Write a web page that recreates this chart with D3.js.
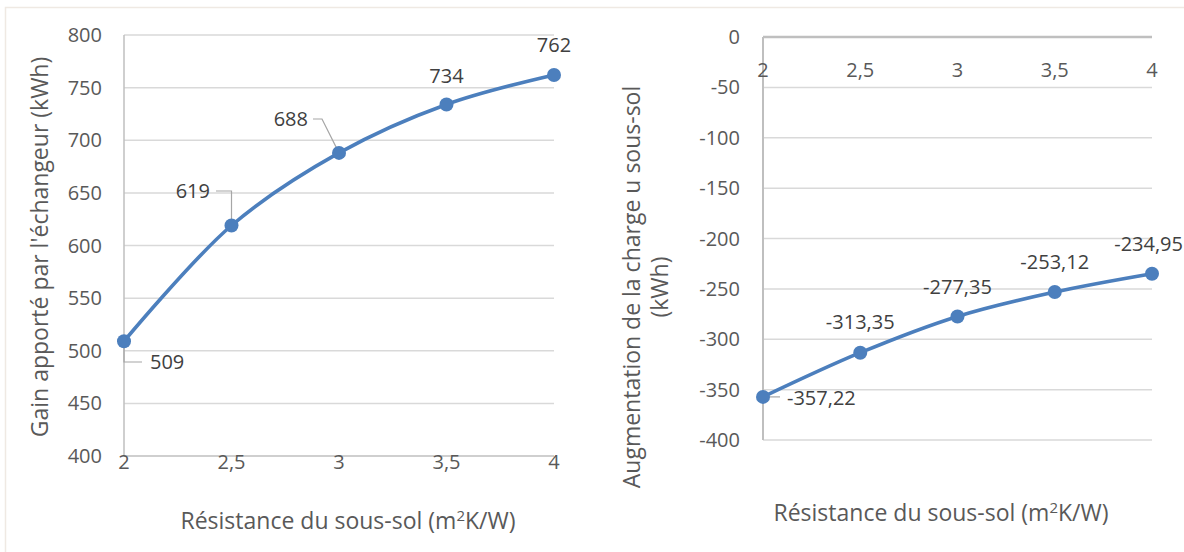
<!DOCTYPE html>
<html><head><meta charset="utf-8">
<script src="https://cdn.jsdelivr.net/npm/d3@7"></script>
<style>html,body{margin:0;padding:0;background:#fff;}svg{display:block;}</style>
</head><body>
<svg id="c" width="1184" height="552"></svg>
<script>
const resistance = [2, 2.5, 3, 3.5, 4];
const gain = [509, 619, 688, 734, 762];
const gainLabels = ["509", "619", "688", "734", "762"];
const charge = [-357.22, -313.35, -277.35, -253.12, -234.95];
const chargeLabels = ["-357,22", "-313,35", "-277,35", "-253,12", "-234,95"];
const xTicks = [2, 2.5, 3, 3.5, 4];
const gainTicks = [400, 450, 500, 550, 600, 650, 700, 750, 800];
const chargeTicks = [0, -50, -100, -150, -200, -250, -300, -350, -400];
const fmt = v => String(v).replace(".", ",");

const svg = d3.select("#c");
const FONT = "'Open Sans', sans-serif";
const BLUE = "#4c7fbd";
const GRID = "#d9d9d9";
const AXIS = "#bfbfbf";
const TICKC = "#595959";
const LBLC = "#404040";
const TS = 23; // title size

// outer frame
svg.append("rect").attr("x", 5.5).attr("y", 7.5).attr("width", 1200).attr("height", 600)
  .attr("fill", "none").attr("stroke", "#efe9e3").attr("stroke-width", 1.5);

const line = (x, y) => d3.line().x((d, i) => x(resistance[i])).y(d => y(d)).curve(d3.curveCatmullRom.alpha(0.5));

// ---------- LEFT CHART ----------
{
  const x = d3.scaleLinear().domain([2, 4]).range([124, 554]);
  const y = d3.scaleLinear().domain([400, 800]).range([456, 35]);
  const g = svg.append("g");
  g.selectAll("line.grid").data(gainTicks.filter(t => t > 400)).join("line")
    .attr("x1", x(2)).attr("x2", x(4)).attr("y1", d => y(d)).attr("y2", d => y(d))
    .attr("stroke", GRID).attr("stroke-width", 1.5);
  g.append("line").attr("x1", x(2)).attr("x2", x(2)).attr("y1", y(800)).attr("y2", y(400)).attr("stroke", AXIS).attr("stroke-width", 1.5);
  g.append("line").attr("x1", x(2)).attr("x2", x(4)).attr("y1", y(400)).attr("y2", y(400)).attr("stroke", AXIS).attr("stroke-width", 1.5);
  g.selectAll("text.yt").data(gainTicks).join("text")
    .attr("x", 102).attr("y", d => y(d)).attr("dy", "0.35em").attr("text-anchor", "end")
    .attr("font-family", FONT).attr("font-size", 20).attr("fill", TICKC).text(d => d);
  g.selectAll("text.xt").data(xTicks).join("text")
    .attr("x", d => x(d)).attr("y", 469).attr("text-anchor", "middle")
    .attr("font-family", FONT).attr("font-size", 20).attr("fill", TICKC).text(fmt);
  g.append("text").attr("x", 348).attr("y", 529).attr("text-anchor", "middle")
    .attr("font-family", FONT).attr("font-size", TS).attr("fill", TICKC)
    .html("Résistance du sous-sol (m<tspan dy='-8' font-size='15'>2</tspan><tspan dy='8'>K/W)</tspan>");
  g.append("text").attr("transform", "translate(48,247) rotate(-90)").attr("text-anchor", "middle")
    .attr("font-family", FONT).attr("font-size", TS).attr("fill", TICKC)
    .text("Gain apporté par l'échangeur (kWh)");
  // leader lines
  const L = "#a6a6a6";
  const pts = resistance.map((r, i) => [x(r), y(gain[i])]);
  g.append("path").attr("d", `M${pts[0][0]},${pts[0][1]} V362 H142`).attr("fill", "none").attr("stroke", L).attr("stroke-width", 1.2);
  g.append("path").attr("d", `M${pts[1][0]},${pts[1][1]} V191 H216`).attr("fill", "none").attr("stroke", L).attr("stroke-width", 1.2);
  g.append("path").attr("d", `M${pts[2][0]},${pts[2][1]} L322,119 H313`).attr("fill", "none").attr("stroke", L).attr("stroke-width", 1.2);
  g.append("path").datum(gain).attr("d", line(x, y)).attr("fill", "none").attr("stroke", BLUE).attr("stroke-width", 3.6);
  g.selectAll("circle").data(gain).join("circle")
    .attr("cx", (d, i) => x(resistance[i])).attr("cy", d => y(d)).attr("r", 7).attr("fill", BLUE);
  const lp = [[150, 362, "start"], [210, 191, "end"], [308, 119, "end"], [x(3.5), 76, "middle"], [x(4), 45, "middle"]];
  g.selectAll("text.dl").data(gainLabels).join("text")
    .attr("x", (d, i) => lp[i][0]).attr("y", (d, i) => lp[i][1]).attr("dy", "0.35em").attr("text-anchor", (d, i) => lp[i][2])
    .attr("font-family", FONT).attr("font-size", 20).attr("fill", LBLC).text(d => d);
}

// ---------- RIGHT CHART ----------
{
  const x = d3.scaleLinear().domain([2, 4]).range([763, 1152]);
  const y = d3.scaleLinear().domain([-400, 0]).range([440, 37]);
  const g = svg.append("g");
  g.selectAll("line.grid").data(chargeTicks.filter(t => t < 0)).join("line")
    .attr("x1", x(2)).attr("x2", x(4)).attr("y1", d => y(d)).attr("y2", d => y(d))
    .attr("stroke", GRID).attr("stroke-width", 1.5);
  g.append("line").attr("x1", x(2)).attr("x2", x(2)).attr("y1", y(0)).attr("y2", y(-400)).attr("stroke", AXIS).attr("stroke-width", 2);
  g.append("line").attr("x1", x(2)).attr("x2", x(4)).attr("y1", y(0)).attr("y2", y(0)).attr("stroke", AXIS).attr("stroke-width", 2.5);
  g.selectAll("text.yt").data(chargeTicks).join("text")
    .attr("x", 740).attr("y", d => y(d)).attr("dy", "0.35em").attr("text-anchor", "end")
    .attr("font-family", FONT).attr("font-size", 20).attr("fill", TICKC).text(d => d);
  g.selectAll("text.xt").data(xTicks).join("text")
    .attr("x", d => x(d)).attr("y", 77).attr("text-anchor", "middle")
    .attr("font-family", FONT).attr("font-size", 20).attr("fill", TICKC).text(fmt);
  g.append("text").attr("x", 941).attr("y", 521).attr("text-anchor", "middle")
    .attr("font-family", FONT).attr("font-size", TS).attr("fill", TICKC)
    .html("Résistance du sous-sol (m<tspan dy='-8' font-size='15'>2</tspan><tspan dy='8'>K/W)</tspan>");
  const t = g.append("text").attr("transform", "translate(640,287) rotate(-90)").attr("text-anchor", "middle")
    .attr("font-family", FONT).attr("font-size", TS).attr("fill", TICKC);
  t.append("tspan").attr("x", 0).attr("dy", 0).text("Augmentation de la charge u sous-sol");
  t.append("tspan").attr("x", 0).attr("dy", 28).text("(kWh)");
  g.append("path").attr("d", `M${x(2)},${y(charge[0])} H780`).attr("fill", "none").attr("stroke", "#a6a6a6").attr("stroke-width", 1.2);
  g.append("path").datum(charge).attr("d", line(x, y)).attr("fill", "none").attr("stroke", BLUE).attr("stroke-width", 3.6);
  g.selectAll("circle").data(charge).join("circle")
    .attr("cx", (d, i) => x(resistance[i])).attr("cy", d => y(d)).attr("r", 7).attr("fill", BLUE);
  const lp = [[787, 398, "start"], [x(2.5), 322, "middle"], [x(3), 287, "middle"], [x(3.5), 262, "middle"], [1183, 244, "end"]];
  g.selectAll("text.dl").data(chargeLabels).join("text")
    .attr("x", (d, i) => lp[i][0]).attr("y", (d, i) => lp[i][1]).attr("dy", "0.35em").attr("text-anchor", (d, i) => lp[i][2])
    .attr("font-family", FONT).attr("font-size", 20).attr("fill", LBLC).text(d => d);
}
</script>
</body></html>
